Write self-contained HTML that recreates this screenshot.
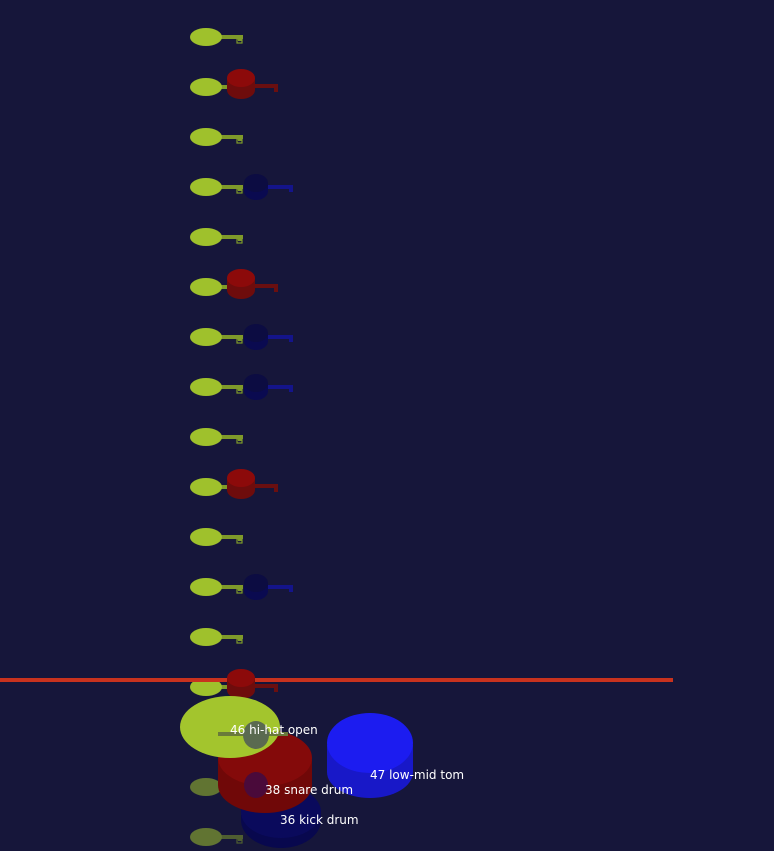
<!DOCTYPE html>
<html><head><style>
html,body{margin:0;padding:0;background:#16163a;}
svg{display:block;}
text{font-family:"DejaVu Sans","Liberation Sans",sans-serif;font-size:12px;fill:#ffffff;}
</style></head><body>
<svg width="774" height="851" viewBox="0 0 774 851" xmlns="http://www.w3.org/2000/svg">
<rect width="774" height="851" fill="#16163a"/>
<defs>
<g id="hat">
  <rect x="218" y="-2" width="25" height="4" fill="#7f9a2a"/>
  <rect x="238" y="-2" width="4" height="6" fill="#7f9a2a"/>
  <rect x="237" y="2" width="5" height="4" fill="none" stroke="#7f9a2a" stroke-width="1.2"/>
  <ellipse cx="206" cy="0" rx="16" ry="9" fill="#9fc12c"/>
</g>
<g id="red">
  <rect x="252" y="-3" width="26" height="4" fill="#6a0f10"/>
  <rect x="274" y="-3" width="4" height="8" fill="#6a0f10"/>
  <path d="M227,-9 L227,3 A14,9 0 0 0 255,3 L255,-9 Z" fill="#6e0c0c"/>
  <ellipse cx="241" cy="-9" rx="14" ry="9" fill="#8c0a0a"/>
</g>
<g id="blue">
  <rect x="266" y="-2" width="27" height="4" fill="#14148a"/>
  <rect x="289" y="-2" width="4" height="7" fill="#14148a"/>
  <path d="M244,-4 L244,4 A12,9 0 0 0 268,4 L268,-4 Z" fill="#0a0a50"/>
  <ellipse cx="256" cy="-4" rx="12" ry="9" fill="#0c0c42"/>
</g>
</defs>
<use href="#hat" y="37"/><use href="#hat" y="87"/><use href="#hat" y="137"/><use href="#hat" y="187"/>
<use href="#hat" y="237"/><use href="#hat" y="287"/><use href="#hat" y="337"/><use href="#hat" y="387"/>
<use href="#hat" y="437"/><use href="#hat" y="487"/><use href="#hat" y="537"/><use href="#hat" y="587"/>
<use href="#hat" y="637"/><use href="#hat" y="687"/>
<use href="#red" y="87"/><use href="#red" y="287"/><use href="#red" y="487"/>
<use href="#blue" y="187"/><use href="#blue" y="337"/><use href="#blue" y="387"/><use href="#blue" y="587"/>
<g opacity="0.55"><use href="#hat" y="787"/><use href="#hat" y="837"/></g>
<rect x="0" y="678" width="673" height="4" fill="#c8321e"/>
<use href="#red" y="687"/>
<path d="M241,815 L241,820 A40,28 0 0 0 321,820 L321,815 Z" fill="#08084e"/>
<ellipse cx="281" cy="812" rx="40" ry="26" fill="#0a0a5c"/>
<path d="M218,760 L218,785 A47,28 0 0 0 312,785 L312,760 Z" fill="#700808"/>
<ellipse cx="265" cy="758" rx="47" ry="28" fill="#840a0a"/>
<ellipse cx="256" cy="785" rx="12" ry="13" fill="#4a0a3a"/>
<path d="M327,745 L327,772 A43,26 0 0 0 413,772 L413,745 Z" fill="#1818c8"/>
<ellipse cx="370" cy="743" rx="43" ry="30" fill="#1c1cf0"/>
<ellipse cx="230" cy="727" rx="50" ry="31" fill="#a3c52d"/>
<rect x="218" y="732" width="70" height="4" fill="#6a7a3a"/>
<ellipse cx="256" cy="735" rx="13" ry="14" fill="#5a6a50"/>
<text x="230" y="734">46 hi-hat open</text>
<text x="370" y="779">47 low-mid tom</text>
<text x="265" y="794">38 snare drum</text>
<text x="280" y="824">36 kick drum</text>
</svg>
</body></html>
